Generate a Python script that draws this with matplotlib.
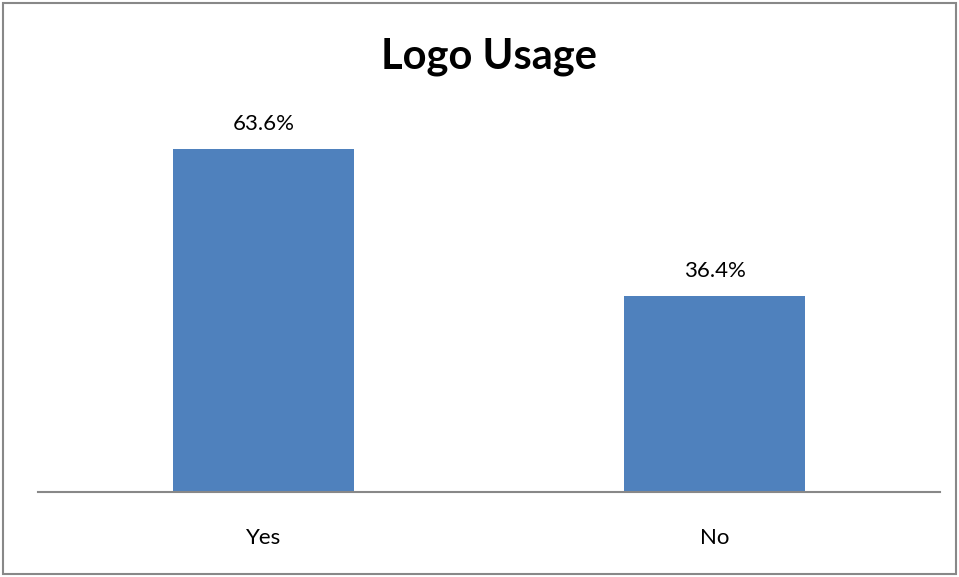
import matplotlib.pyplot as plt
from matplotlib.patches import Rectangle

categories = ['Yes', 'No']
values = [63.6, 36.4]
labels = ['63.6%', '36.4%']

W, H = 959, 577
fig = plt.figure(figsize=(W / 100, H / 100), dpi=100)

# plot area in pixels: x 38..940, baseline y 492, top y 115
ax = fig.add_axes([38 / W, (H - 492) / H, (940 - 38) / W, (492 - 115) / H])

x = range(len(categories))
ax.bar(x, values, width=0.4, color='#4F81BD', zorder=2)
ax.set_xlim(-0.5, 1.5)
ax.set_ylim(0, 70)

for xi, v, lab in zip(x, values, labels):
    ax.annotate(lab, (xi, v), xytext=(0, 18), textcoords='offset points',
                ha='center', va='center', fontsize=16, family='Lato')

ax.set_xticks(list(x))
ax.set_xticklabels(categories, fontsize=16, family='Lato')
ax.tick_params(axis='x', length=0, pad=26)
ax.set_yticks([])
for s in ['left', 'right', 'top']:
    ax.spines[s].set_visible(False)
ax.spines['bottom'].set_color('#888888')
ax.spines['bottom'].set_linewidth(1.5)

fig.text(489 / W, 1 - 57 / H, 'Logo Usage', ha='center', va='center',
         fontsize=30, fontweight='bold', family='Lato')

# outer chart border
fig.patches.append(Rectangle((3 / W, 3 / H), (W - 6) / W, (H - 6) / H,
                             transform=fig.transFigure, fill=False,
                             edgecolor='#888888', linewidth=1.5))

fig.savefig('out.png', dpi=100)
